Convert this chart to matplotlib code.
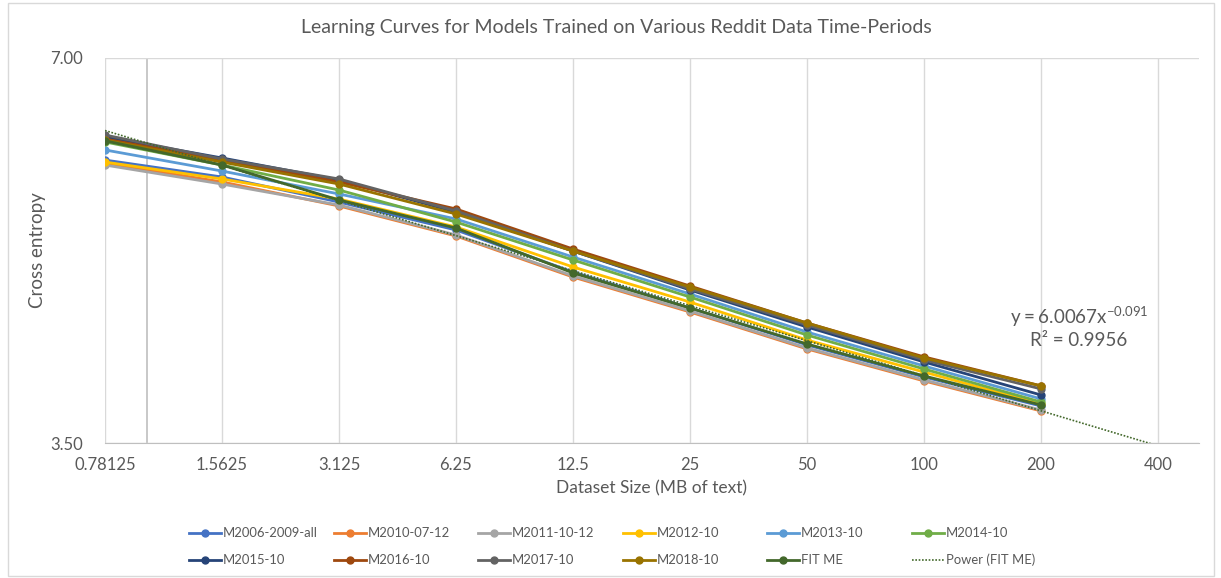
import matplotlib.pyplot as plt
import numpy as np
from matplotlib.lines import Line2D
from matplotlib.patches import Rectangle
from matplotlib.ticker import FixedLocator, FixedFormatter, NullLocator

plt.rcParams['font.family'] = ['Lato', 'DejaVu Sans']

# dataset sizes (MB of text)
sizes = [0.78125, 1.5625, 3.125, 6.25, 12.5, 25, 50, 100, 200]
x_ticks = [0.78125, 1.5625, 3.125, 6.25, 12.5, 25, 50, 100, 200, 400]
x_tick_labels = ['0.78125', '1.5625', '3.125', '6.25', '12.5', '25', '50', '100', '200', '400']

m2006 = [5.825, 5.650, 5.401, 5.136, 4.762, 4.463, 4.176, 3.942, 3.741]
m2010 = [5.794, 5.600, 5.363, 5.081, 4.719, 4.431, 4.146, 3.914, 3.708]
m2011 = [5.773, 5.579, 5.372, 5.090, 4.728, 4.439, 4.153, 3.921, 3.714]
m2012 = [5.804, 5.630, 5.430, 5.164, 4.805, 4.511, 4.213, 3.977, 3.755]
m2013 = [5.932, 5.711, 5.480, 5.239, 4.892, 4.577, 4.274, 4.021, 3.789]
m2014 = [6.018, 5.773, 5.519, 5.210, 4.866, 4.552, 4.251, 3.999, 3.768]
m2015 = [6.072, 5.847, 5.620, 5.305, 4.945, 4.610, 4.313, 4.050, 3.816]
m2016 = [6.050, 5.825, 5.600, 5.334, 4.963, 4.643, 4.344, 4.087, 3.879]
m2017 = [6.094, 5.836, 5.630, 5.315, 4.945, 4.619, 4.329, 4.065, 3.858]
m2018 = [6.039, 5.804, 5.579, 5.286, 4.945, 4.635, 4.344, 4.079, 3.879]
fit_me = [6.030, 5.773, 5.421, 5.154, 4.754, 4.463, 4.183, 3.949, 3.748]

# power trendline printed on the chart: y = a * x^b
trend_a = 6.0067
trend_b = -0.091
trend_r2 = 0.9956

series = [
    ('M2006-2009-all', m2006, '#4472C4'),
    ('M2010-07-12', m2010, '#ED7D31'),
    ('M2011-10-12', m2011, '#A5A5A5'),
    ('M2012-10', m2012, '#FFC000'),
    ('M2013-10', m2013, '#5B9BD5'),
    ('M2014-10', m2014, '#70AD47'),
    ('M2015-10', m2015, '#264478'),
    ('M2016-10', m2016, '#9E480E'),
    ('M2017-10', m2017, '#636363'),
    ('M2018-10', m2018, '#997300'),
    ('FIT ME', fit_me, '#43682B'),
]
trend_color = '#43682B'
text_color = '#595959'
grid_color = '#D9D9D9'

W, H = 1221, 578
fig = plt.figure(figsize=(W / 100, H / 100), dpi=100)
ax = fig.add_axes([105 / W, 1 - 443 / H, (1199 - 105) / W, (443 - 58) / H])

ax.set_xscale('log', base=2)
ax.set_yscale('log', base=2)
ax.set_xlim(0.78125, 510)
ax.set_ylim(3.5, 7.0)

for name, vals, col in series:
    ax.plot(sizes, vals, color=col, lw=2.0, marker='o', ms=5, zorder=3)

xs = np.geomspace(0.78125, 510, 200)
ax.plot(xs, trend_a * xs ** trend_b, color=trend_color, lw=1.2, ls=(0, (1, 1)), zorder=4)

ax.xaxis.set_major_locator(FixedLocator(x_ticks))
ax.xaxis.set_major_formatter(FixedFormatter(x_tick_labels))
ax.xaxis.set_minor_locator(NullLocator())
ax.yaxis.set_major_locator(FixedLocator([3.5, 7.0]))
ax.yaxis.set_major_formatter(FixedFormatter(['3.50', '7.00']))
ax.yaxis.set_minor_locator(NullLocator())
ax.tick_params(length=0, labelsize=12, labelcolor=text_color)
ax.tick_params(axis='x', pad=10)
ax.tick_params(axis='y', pad=16)

ax.grid(True, axis='both', color=grid_color, lw=1)
ax.axvline(1.0, color='#BFBFBF', lw=1.2, zorder=1)
for s in ['left', 'right', 'top']:
    ax.spines[s].set_visible(False)
ax.spines['bottom'].set_color('#BFBFBF')

ax.set_xlabel('Dataset Size (MB of text)', fontsize=12.5, color=text_color, labelpad=5)
ax.set_ylabel('Cross entropy', fontsize=13.5, color=text_color, labelpad=3)

fig.text(0.505, 1 - 28 / H, 'Learning Curves for Models Trained on Various Reddit Data Time-Periods',
         ha='center', va='center', fontsize=14, color=text_color)

ax.text(1079 / W, 1 - 317 / H, r'$\mathregular{y = %.4fx^{%.3f}}$' % (trend_a, trend_b),
        transform=fig.transFigure, ha='center', va='center', fontsize=13.5, color=text_color)
ax.text(1079 / W, 1 - 341 / H, 'R² = %.4f' % trend_r2,
        transform=fig.transFigure, ha='center', va='center', fontsize=13.5, color=text_color)

# legend laid out like the Excel one: 6 evenly spaced columns
legend_items = [(n, c, '-') for n, v, c in series] + [('Power (FIT ME)', trend_color, ':')]
for i, (name, col, style) in enumerate(legend_items):
    cx = 189 + (i % 6) * 144.5
    cy = 533 + (i // 6) * 27
    if style == '-':
        fig.add_artist(Line2D([cx / W, (cx + 32) / W], [1 - cy / H, 1 - cy / H],
                              transform=fig.transFigure, color=col, lw=2.0))
        fig.add_artist(Line2D([(cx + 16) / W], [1 - cy / H], transform=fig.transFigure,
                              color=col, marker='o', ms=5, ls='none'))
    else:
        fig.add_artist(Line2D([cx / W, (cx + 32) / W], [1 - cy / H, 1 - cy / H],
                              transform=fig.transFigure, color=col, lw=1.2, ls=(0, (1, 1))))
    fig.text((cx + 34) / W, 1 - cy / H, name, ha='left', va='center', fontsize=9.4, color=text_color)

fig.add_artist(Rectangle((8 / W, 1 - 576 / H), (1214 - 8) / W, (576 - 3) / H,
                         transform=fig.transFigure, fill=False, edgecolor=grid_color, lw=1))

fig.savefig('out.png', dpi=100)
